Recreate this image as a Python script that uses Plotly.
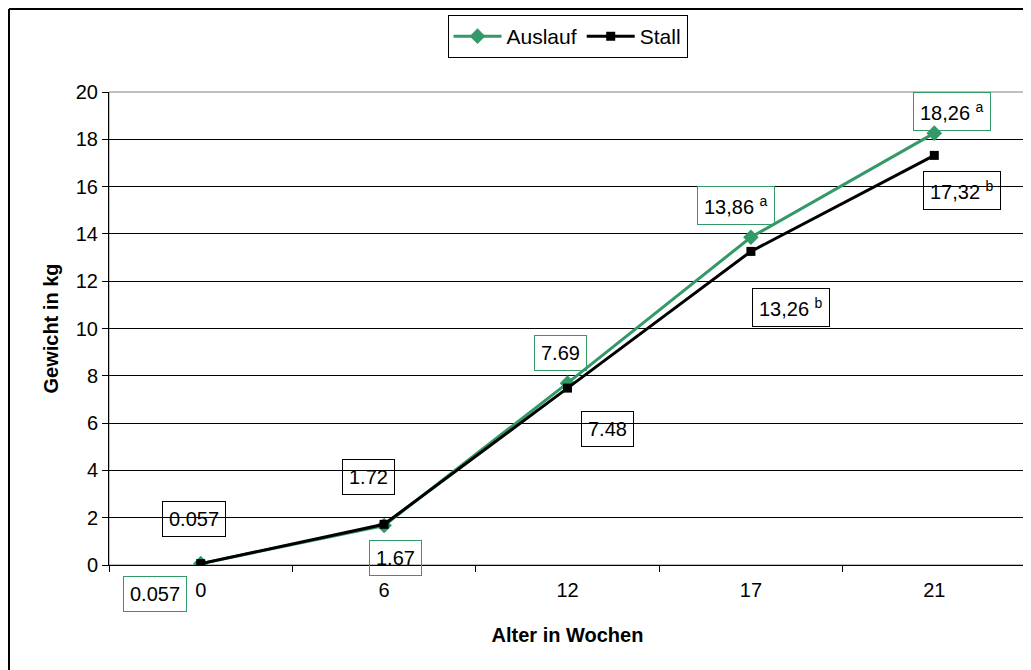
import plotly.graph_objects as go

weeks = ["0", "6", "12", "17", "21"]
auslauf = [0.057, 1.67, 7.69, 13.86, 18.26]
stall = [0.057, 1.72, 7.48, 13.26, 17.32]
auslauf_labels = ["0.057", "1.67", "7.69", "13,86 <sup>a</sup>", "18,26 <sup>a</sup>"]
stall_labels = ["0.057", "1.72", "7.48", "13,26 <sup>b</sup>", "17,32 <sup>b</sup>"]
y_ticks = [0, 2, 4, 6, 8, 10, 12, 14, 16, 18, 20]

# label box offsets in pixels (dx right, dy up)
auslauf_off = [(-46, -30), (11, -32), (-7, 30), (-15, 32), (18, 22)]
stall_off = [(-7, 45), (-16, 47), (40, -41), (40, -56), (28, -35)]

GREEN = "#339966"
FONT = "Liberation Sans, Arial, sans-serif"

# page has an 8px body margin, so figure is sized to fit the window
W, H = 1023, 662
L, T, PW, PH = 101, 84, 917, 473

fig = go.Figure()
fig.add_trace(go.Scatter(
    x=weeks, y=auslauf, name="Auslauf", mode="lines+markers",
    line=dict(color=GREEN, width=3),
    marker=dict(symbol="diamond", size=12, color=GREEN),
))
fig.add_trace(go.Scatter(
    x=weeks, y=stall, name="Stall", mode="lines+markers",
    line=dict(color="black", width=3),
    marker=dict(symbol="square", size=9, color="black"),
))

anns = []
for i, (yv, txt, (dx, dy)) in enumerate(zip(auslauf, auslauf_labels, auslauf_off)):
    anns.append(dict(x=i, y=yv, xref="x", yref="y", text=txt, showarrow=False,
                     xshift=dx, yshift=dy, bordercolor=GREEN, borderwidth=1,
                     borderpad=6, font=dict(size=20, color="black", family=FONT)))
for i, (yv, txt, (dx, dy)) in enumerate(zip(stall, stall_labels, stall_off)):
    anns.append(dict(x=i, y=yv, xref="x", yref="y", text=txt, showarrow=False,
                     xshift=dx, yshift=dy, bordercolor="black", borderwidth=1,
                     borderpad=6, font=dict(size=20, color="black", family=FONT)))

edge_x = (1 - L) / PW
edge_y = (PH + T - 1) / PH

fig.update_layout(
    width=W, height=H,
    margin=dict(l=L, r=W - L - PW, t=T, b=H - T - PH, autoexpand=False),
    paper_bgcolor="white", plot_bgcolor="white",
    font=dict(family=FONT, size=20, color="black"),
    showlegend=True,
    legend=dict(orientation="h", x=0.5, xanchor="center", y=(PH + T - 7) / PH, yanchor="top",
                bordercolor="black", borderwidth=1, bgcolor="white",
                font=dict(size=21), itemwidth=48, tracegroupgap=0),
    annotations=anns,
    xaxis=dict(
        type="category", range=[-0.5, 4.5], showgrid=False,
        showline=True, linecolor="black", linewidth=1,
        ticks="outside", ticklen=6, tickcolor="black", tickson="boundaries",
        ticklabelstandoff=7,
        title=dict(text="<b>Alter in Wochen</b>", font=dict(size=20), standoff=27),
        zeroline=False,
    ),
    yaxis=dict(
        range=[0, 20], tickvals=y_ticks, showgrid=True, gridcolor="black", gridwidth=1,
        showline=True, linecolor="black", linewidth=1,
        ticks="outside", ticklen=6, tickcolor="black",
        title=dict(text="<b>Gewicht in kg</b>", font=dict(size=20), standoff=11),
        zeroline=False,
    ),
    shapes=[
        dict(type="rect", xref="paper", yref="paper", x0=0, x1=1, y0=0, y1=1,
             line=dict(color="#808080", width=1), layer="below"),
        dict(type="line", xref="paper", yref="paper",
             x0=edge_x, x1=edge_x, y0=edge_y, y1=-0.5,
             line=dict(color="black", width=2)),
        dict(type="line", xref="paper", yref="paper",
             x0=edge_x, x1=1.2, y0=edge_y, y1=edge_y,
             line=dict(color="black", width=2)),
    ],
)

fig.write_html("out.html")
